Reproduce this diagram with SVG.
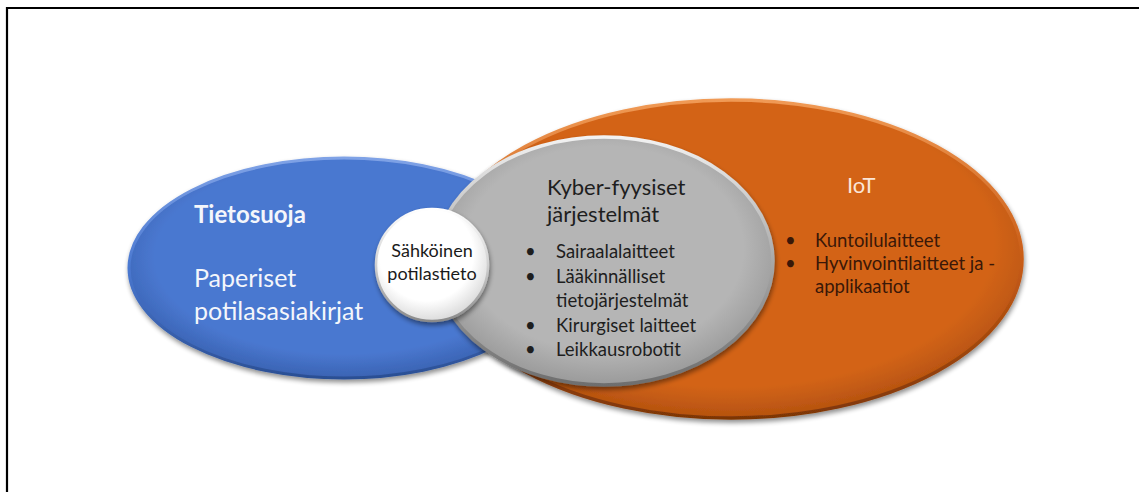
<svg xmlns="http://www.w3.org/2000/svg" width="1139" height="492" viewBox="0 0 1139 492">
  <style>
    text { font-family: Lato, "Open Sans", "Liberation Sans", sans-serif; }
    .light { fill: #f4f6fb; }
    .dark { fill: #1e1e1e; font-size: 18.5px; }
    .brown { fill: #3a1808; font-size: 18.5px; }
  </style>
  <defs>
    <filter id="shadow" x="-10%" y="-10%" width="120%" height="125%">
      <feGaussianBlur in="SourceAlpha" stdDeviation="2.5"/>
      <feOffset dx="1" dy="3" result="b"/>
      <feComponentTransfer><feFuncA type="linear" slope="0.45"/></feComponentTransfer>
      <feMerge><feMergeNode/><feMergeNode in="SourceGraphic"/></feMerge>
    </filter>
    <radialGradient id="gBlue" cx="50%" cy="45%" r="55%">
      <stop offset="0.8" stop-color="#4a78d0"/>
      <stop offset="1" stop-color="#3a63b3"/>
    </radialGradient>
    <radialGradient id="gOrange" cx="50%" cy="45%" r="55%">
      <stop offset="0.82" stop-color="#d36419"/>
      <stop offset="1" stop-color="#b5520f"/>
    </radialGradient>
    <radialGradient id="gGray" cx="50%" cy="45%" r="55%">
      <stop offset="0.75" stop-color="#b5b5b5"/>
      <stop offset="1" stop-color="#9a9a9a"/>
    </radialGradient>
    <radialGradient id="gWhite" cx="45%" cy="40%" r="60%">
      <stop offset="0.7" stop-color="#ffffff"/>
      <stop offset="1" stop-color="#dcdcdc"/>
    </radialGradient>
    <!-- rim light at the top, darker rim at the bottom -->
    <linearGradient id="rimBlue" x1="0" y1="0" x2="0" y2="1">
      <stop offset="0" stop-color="#7fa2e6"/>
      <stop offset="0.5" stop-color="#4a78d0"/>
      <stop offset="1" stop-color="#2b4f94"/>
    </linearGradient>
    <linearGradient id="rimOrange" x1="0" y1="0" x2="0" y2="1">
      <stop offset="0" stop-color="#f09a55"/>
      <stop offset="0.5" stop-color="#c95c16"/>
      <stop offset="1" stop-color="#7e3606"/>
    </linearGradient>
    <linearGradient id="rimGray" x1="0" y1="0" x2="0" y2="1">
      <stop offset="0" stop-color="#f2f2f2"/>
      <stop offset="0.5" stop-color="#a8a8a8"/>
      <stop offset="1" stop-color="#6e6e6e"/>
    </linearGradient>
    <linearGradient id="rimWhite" x1="0" y1="0" x2="0" y2="1">
      <stop offset="0" stop-color="#ffffff"/>
      <stop offset="0.5" stop-color="#d0d0d0"/>
      <stop offset="1" stop-color="#8a8a8a"/>
    </linearGradient>
  </defs>

  <rect width="1139" height="492" fill="#ffffff"/>
  <!-- frame -->
  <path d="M7 492 V8 H1139" fill="none" stroke="#000" stroke-width="2.2"/>

  <g id="tietosuoja">
    <ellipse cx="344" cy="268" rx="215" ry="110" fill="url(#gBlue)" stroke="url(#rimBlue)" stroke-width="3" filter="url(#shadow)"/>
    <text class="light" x="194" y="223" font-size="24" font-weight="bold">Tietosuoja</text>
    <text class="light" x="194" y="287" font-size="25">Paperiset</text>
    <text class="light" x="194" y="320" font-size="25">potilasasiakirjat</text>
  </g>

  <g id="iot">
    <ellipse cx="731" cy="259" rx="291" ry="159" fill="url(#gOrange)" stroke="url(#rimOrange)" stroke-width="3.5" filter="url(#shadow)"/>
    <text x="847" y="193" font-size="22" fill="#fbe6d8">IoT</text>
    <text class="brown" x="785" y="247">•</text>
    <text class="brown" x="815" y="247">Kuntoilulaitteet</text>
    <text class="brown" x="785" y="270">•</text>
    <text class="brown" x="815" y="270">Hyvinvointilaitteet ja -</text>
    <text class="brown" x="815" y="293">applikaatiot</text>
  </g>

  <g id="kyberfyysiset">
    <ellipse cx="604" cy="261" rx="169" ry="124" fill="url(#gGray)" stroke="url(#rimGray)" stroke-width="3.5" filter="url(#shadow)"/>
    <text x="547" y="195" font-size="22" fill="#1e1e1e">Kyber-fyysiset</text>
    <text x="547" y="222" font-size="22" fill="#1e1e1e">järjestelmät</text>
    <text class="dark" x="525" y="258">•</text>
    <text class="dark" x="556" y="258">Sairaalalaitteet</text>
    <text class="dark" x="525" y="283">•</text>
    <text class="dark" x="556" y="283">Lääkinnälliset</text>
    <text class="dark" x="556" y="307">tietojärjestelmät</text>
    <text class="dark" x="525" y="332">•</text>
    <text class="dark" x="556" y="332">Kirurgiset laitteet</text>
    <text class="dark" x="525" y="356">•</text>
    <text class="dark" x="556" y="356">Leikkausrobotit</text>
  </g>

  <g id="sahkoinen">
    <circle cx="432" cy="265" r="56" fill="url(#gWhite)" stroke="url(#rimWhite)" stroke-width="2.5" filter="url(#shadow)"/>
    <text x="432" y="257" font-size="18" fill="#1a1a1a" text-anchor="middle">Sähköinen</text>
    <text x="432" y="280" font-size="18" fill="#1a1a1a" text-anchor="middle">potilastieto</text>
  </g>

  <g id="connectors"/>
</svg>
